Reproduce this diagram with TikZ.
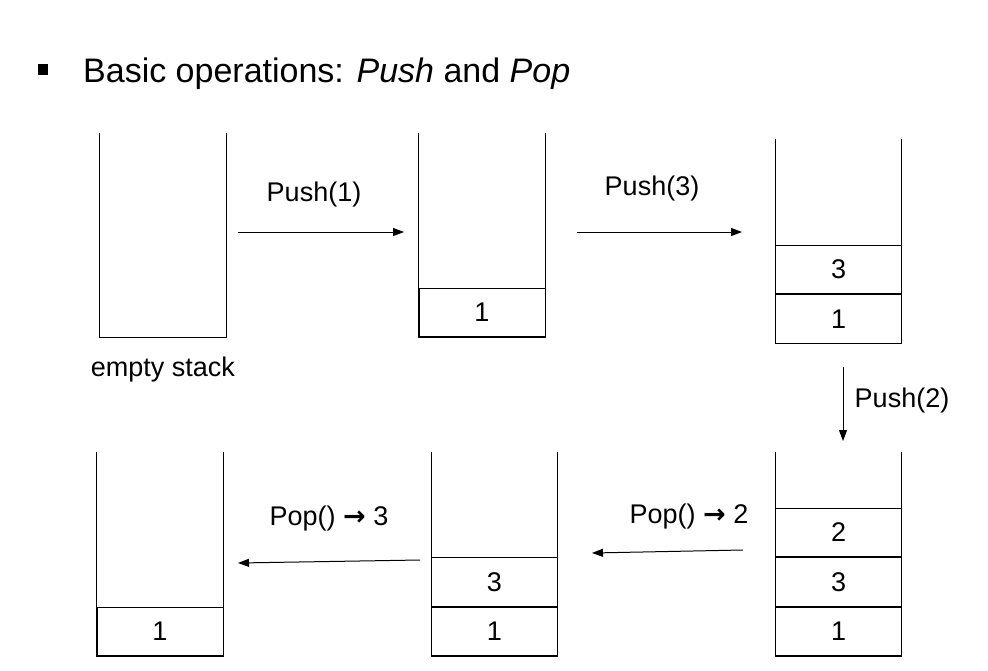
\documentclass[tikz,border=0pt]{standalone}
\usepackage{fontspec}
\setmainfont{Liberation Sans}
\newfontfamily\flechafont{DejaVu Sans}
\usetikzlibrary{arrows.meta}
\newcommand{\da}{{\flechafont\bfseries →}}
\begin{document}
\begin{tikzpicture}[
      x=1pt, y=-1pt,
      pila/.style={minimum width=126pt, minimum height=204pt, inner sep=0pt},
      celda/.style={draw, line width=1pt, minimum width=126pt, minimum height=48.5pt, inner sep=0pt, anchor=south, font=\fontsize{27}{32}\selectfont},
      paso/.style={font=\fontsize{27}{32}\selectfont},
      flecha/.style={line width=1pt, -{Triangle[length=11pt,width=8pt]}}
    ]
    \useasboundingbox (0,0) rectangle (988,670);
    % --- titulo ---
    \fill (38,64) rectangle (48,75);
    \node[anchor=base west, font=\fontsize{34}{40}\selectfont, inner sep=0pt] (titulo) at (83,82)
      {Basic operations: \textit{Push} and \textit{Pop}};

    % --- fila superior ---
    \node[pila] (p1) at (163,235) {};
    \draw[line width=1pt] (p1.north west) |- (p1.south east) -- (p1.north east);
    \node[paso] (vacia) at (163,370) {empty stack};

    \node[pila] (p2) at (482,235) {};
    \draw[line width=1pt] (p2.north west) |- (p2.south east) -- (p2.north east);
    \node[celda] (p2a) at (p2.south) {1};

    \node[pila] (p3) at (838.5,241.5) {};
    \draw[line width=1pt] (p3.north west) |- (p3.south east) -- (p3.north east);
    \node[celda] (p3a) at (p3.south) {1};
    \node[celda] (p3b) at (p3a.north) {3};

    % --- fila inferior ---
    \node[pila] (p4) at (838.5,554) {};
    \draw[line width=1pt] (p4.north west) |- (p4.south east) -- (p4.north east);
    \node[celda] (p4a) at (p4.south) {1};
    \node[celda] (p4b) at (p4a.north) {3};
    \node[celda] (p4c) at (p4b.north) {2};

    \node[pila] (p5) at (494.5,554) {};
    \draw[line width=1pt] (p5.north west) |- (p5.south east) -- (p5.north east);
    \node[celda] (p5a) at (p5.south) {1};
    \node[celda] (p5b) at (p5a.north) {3};

    \node[pila] (p6) at (160,554) {};
    \draw[line width=1pt] (p6.north west) |- (p6.south east) -- (p6.north east);
    \node[celda] (p6a) at (p6.south) {1};

    % --- operaciones ---
    \coordinate (o1) at (238,232);
    \coordinate (d1) at (404,232);
    \draw[flecha] (o1) -- (d1);
    \node[paso] (push1) at (314,195) {Push(1)};

    \coordinate (o2) at (577,232);
    \coordinate (d2) at (742,232);
    \draw[flecha] (o2) -- (d2);
    \node[paso] (push3) at (652,189) {Push(3)};

    \coordinate (o3) at (843,367);
    \coordinate (d3) at (843,441);
    \draw[flecha] (o3) -- (d3);
    \node[paso] (push2) at (902,401) {Push(2)};

    \coordinate (o4) at (743,550);
    \coordinate (d4) at (592,553);
    \draw[flecha] (o4) -- (d4);
    \node[paso] (pop2) at (689,517) {Pop() \da{} 2};

    \coordinate (o5) at (420,560);
    \coordinate (d5) at (238,563);
    \draw[flecha] (o5) -- (d5);
    \node[paso] (pop3) at (329,519) {Pop() \da{} 3};
  \end{tikzpicture}
\end{document}
